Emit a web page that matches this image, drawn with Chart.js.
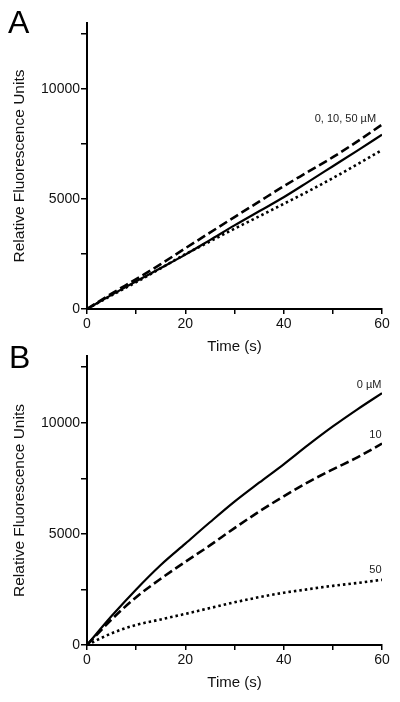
<!DOCTYPE html>
<html>
<head>
<meta charset="utf-8">
<script src="https://cdn.jsdelivr.net/npm/chart.js@4/dist/chart.umd.min.js"></script>
<style>
  html, body { margin: 0; padding: 0; background: #fff; }
  body { position: relative; width: 400px; height: 702px; overflow: hidden; }
  canvas { position: absolute; left: 0; }
  #chartA { top: 0; }
  #chartB { top: 340px; }
  .panel-letter {
    position: absolute;
    font-family: "Liberation Sans", Arial, sans-serif;
    font-size: 32px;
    line-height: 1;
    color: #000;
  }
</style>
</head>
<body>
<canvas id="chartA" width="400" height="356"></canvas>
<canvas id="chartB" width="400" height="352"></canvas>
<div class="panel-letter" style="left:8px; top:6px;">A</div>
<div class="panel-letter" style="left:9px; top:341px;">B</div>

<script>
// Time points (s), shared by both panels
const timeS = [0, 5, 10, 15, 20, 25, 30, 35, 40, 45, 50, 55, 60];

// Panel A: relative fluorescence units
const panelA0uM  = [0, 640, 1260, 1860, 2470, 3130, 3800, 4440, 5080, 5780, 6490, 7200, 7920];
const panelA10uM = [0, 700, 1360, 2040, 2760, 3470, 4180, 4880, 5580, 6240, 6900, 7620, 8380];
const panelA50uM = [0, 620, 1220, 1850, 2490, 3070, 3650, 4210, 4780, 5350, 5950, 6580, 7225];

// Panel B: relative fluorescence units
const panelB0uM  = [0, 1300, 2500, 3600, 4560, 5520, 6450, 7300, 8130, 9000, 9830, 10600, 11330];
const panelB10uM = [0, 1150, 2150, 2980, 3740, 4480, 5260, 6000, 6690, 7330, 7900, 8440, 9060];
const panelB50uM = [0, 526, 902, 1150, 1400, 1660, 1920, 2150, 2350, 2510, 2661, 2790, 2932];

// axis ticks: every value gets a tick mark, only the labelled ones get text
const xTickValues = [0, 10, 20, 30, 40, 50, 60];
const xTickLabels = ["0", "20", "40", "60"];
const yTickValues = [0, 2500, 5000, 7500, 10000, 12500];
const yTickLabels = ["0", "5000", "10000"];

const FONT = '"Liberation Sans", Arial, sans-serif';

function toPoints(values) {
  return values.map((v, i) => ({ x: timeS[i], y: v }));
}

function lineDataset(label, values, style) {
  const ds = {
    label: label,
    data: toPoints(values),
    borderColor: "#000",
    borderWidth: 2.2,
    pointRadius: 0,
    fill: false,
    cubicInterpolationMode: "monotone",
  };
  if (style === "dash") {
    ds.borderDash = [9, 4];
    ds.borderWidth = 2.6;
  } else if (style === "dot") {
    ds.borderDash = [2.5, 3];
    ds.borderWidth = 2.6;
  }
  return ds;
}

// draws the small series labels next to the line ends
const seriesLabels = {
  id: "seriesLabels",
  afterDatasetsDraw(chart, args, opts) {
    const ctx = chart.ctx;
    const xs = chart.scales.x;
    const ys = chart.scales.y;
    ctx.save();
    ctx.fillStyle = "#222";
    ctx.font = "11px " + FONT;
    ctx.textAlign = "right";
    ctx.textBaseline = "middle";
    (opts.items || []).forEach((it) => {
      ctx.fillText(it.text, xs.getPixelForValue(it.x), ys.getPixelForValue(it.y));
    });
    ctx.restore();
  },
};

function makeOptions(padTop, axisHeight, labels) {
  return {
    responsive: false,
    animation: false,
    layout: { padding: { top: padTop, right: 18, left: 0, bottom: 0 } },
    plugins: {
      legend: { display: false },
      tooltip: { enabled: false },
      seriesLabels: { items: labels },
    },
    scales: {
      x: {
        type: "linear",
        min: 0,
        max: 60,
        afterFit(scale) { scale.height = axisHeight; },
        afterBuildTicks(scale) { scale.ticks = xTickValues.map((v) => ({ value: v })); },
        border: { display: true, color: "#000", width: 2 },
        grid: {
          drawOnChartArea: false,
          drawTicks: true,
          tickLength: 5,
          color: "#000",
          lineWidth: 1.5,
        },
        ticks: {
          padding: 2,
          color: "#111",
          font: { family: FONT, size: 14 },
          maxRotation: 0,
          autoSkip: false,
          callback: (v) => (xTickLabels.includes(String(v)) ? String(v) : ""),
        },
        title: {
          display: true,
          text: "Time (s)",
          color: "#111",
          font: { family: FONT, size: 15 },
          padding: 0,
        },
      },
      y: {
        type: "linear",
        min: 0,
        max: 13000,
        afterFit(scale) { scale.width = 87; },
        afterBuildTicks(scale) { scale.ticks = yTickValues.map((v) => ({ value: v })); },
        border: { display: true, color: "#000", width: 2 },
        grid: {
          drawOnChartArea: false,
          drawTicks: true,
          tickLength: 6,
          color: "#000",
          lineWidth: 1.5,
        },
        ticks: {
          padding: 1,
          color: "#111",
          font: { family: FONT, size: 14 },
          autoSkip: false,
          callback: (v) => (yTickLabels.includes(String(v)) ? String(v) : ""),
        },
        title: {
          display: true,
          text: "Relative Fluorescence Units",
          color: "#111",
          font: { family: FONT, size: 15.5 },
          padding: { top: 10, bottom: 0 },
        },
      },
    },
  };
}

new Chart(document.getElementById("chartA"), {
  type: "line",
  data: {
    datasets: [
      lineDataset("0 µM", panelA0uM, "solid"),
      lineDataset("10 µM", panelA10uM, "dash"),
      lineDataset("50 µM", panelA50uM, "dot"),
    ],
  },
  options: makeOptions(23, 47, [{ text: "0, 10, 50 µM", x: 58.8, y: 8640 }]),
  plugins: [seriesLabels],
});

new Chart(document.getElementById("chartB"), {
  type: "line",
  data: {
    datasets: [
      lineDataset("0 µM", panelB0uM, "solid"),
      lineDataset("10 µM", panelB10uM, "dash"),
      lineDataset("50 µM", panelB50uM, "dot"),
    ],
  },
  options: makeOptions(16, 47, [
    { text: "0 µM", x: 59.9, y: 11680 },
    { text: "10", x: 59.9, y: 9430 },
    { text: "50", x: 59.9, y: 3380 },
  ]),
  plugins: [seriesLabels],
});
</script>
</body>
</html>
